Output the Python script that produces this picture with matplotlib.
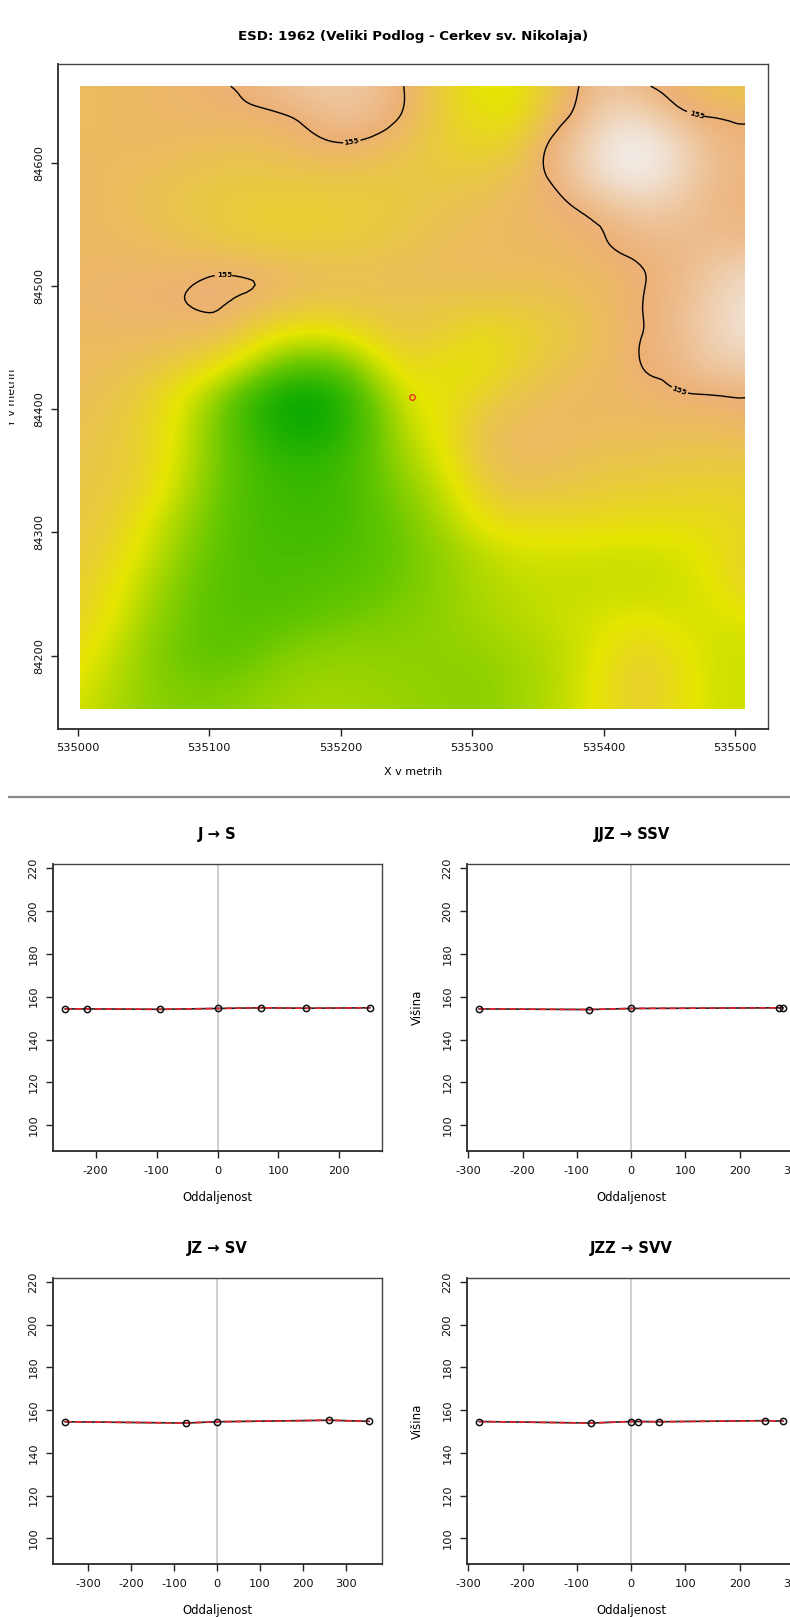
import numpy as np
import matplotlib.pyplot as plt
import matplotlib.tri as mtri
from matplotlib.colors import LinearSegmentedColormap
from matplotlib.patches import Rectangle
from matplotlib.transforms import Bbox

W, H = 790, 1617

plt.rcParams['font.family'] = ['DejaVu Sans']
plt.rcParams['axes.unicode_minus'] = False

# surface heights, rows north to south, columns west to east
grid_x = np.linspace(535002, 535507.6, 21)
grid_y = np.linspace(84662, 84156.5, 21)
height = np.array([
    [154.85,154.88,154.9,154.92,154.98,155.03,155.15,155.25,155.28,155.15,154.93,154.6,154.3,154.25,154.65,155.0,155.2,155.03,154.9,154.8,154.7],
    [154.85,154.88,154.9,154.92,154.93,154.95,154.98,155.07,155.18,155.1,154.9,154.6,154.4,154.35,154.75,155.1,155.4,155.4,155.1,155.0,154.96],
    [154.88,154.88,154.88,154.85,154.82,154.8,154.85,154.92,154.95,154.88,154.75,154.6,154.55,154.6,155.0,155.3,155.62,155.7,155.45,155.12,155.06],
    [154.9,154.85,154.82,154.78,154.72,154.7,154.7,154.72,154.72,154.7,154.7,154.7,154.72,154.8,154.98,155.25,155.55,155.6,155.4,155.12,155.05],
    [154.9,154.85,154.8,154.72,154.68,154.62,154.6,154.6,154.62,154.65,154.72,154.78,154.82,154.88,154.93,155.0,155.15,155.28,155.22,155.1,155.05],
    [154.9,154.88,154.85,154.8,154.72,154.65,154.62,154.62,154.65,154.7,154.75,154.82,154.85,154.88,154.9,154.93,155.01,155.08,155.12,155.12,155.1],
    [154.9,154.92,154.93,154.93,154.98,154.97,154.9,154.85,154.82,154.82,154.85,154.85,154.85,154.85,154.85,154.88,154.92,155.0,155.08,155.25,155.4],
    [154.92,154.94,154.96,154.985,155.03,154.93,154.85,154.72,154.75,154.75,154.75,154.72,154.72,154.72,154.75,154.8,154.88,155.01,155.12,155.32,155.52],
    [154.88,154.88,154.88,154.85,154.85,154.65,154.35,154.28,154.35,154.6,154.7,154.6,154.45,154.5,154.62,154.75,154.88,155.01,155.12,155.35,155.52],
    [154.85,154.82,154.75,154.65,154.45,154.12,153.65,153.5,153.65,154.18,154.5,154.35,154.35,154.55,154.72,154.82,154.88,155.01,155.08,155.25,155.3],
    [154.82,154.75,154.6,154.3,153.9,153.35,153.0,152.9,153.2,153.75,154.3,154.35,154.55,154.75,154.82,154.88,154.9,154.92,154.97,154.98,155.0],
    [154.78,154.7,154.55,154.25,153.75,153.35,153.05,152.98,153.2,153.65,154.15,154.4,154.75,154.85,154.88,154.88,154.85,154.85,154.85,154.85,154.9],
    [154.75,154.68,154.55,154.2,153.75,153.45,153.25,153.22,153.35,153.65,154.0,154.3,154.72,154.85,154.85,154.8,154.75,154.75,154.72,154.7,154.72],
    [154.72,154.65,154.5,154.1,153.7,153.45,153.33,153.3,153.38,153.6,153.85,154.15,154.55,154.75,154.72,154.68,154.62,154.6,154.58,154.55,154.58],
    [154.7,154.6,154.3,153.95,153.65,153.45,153.38,153.35,153.4,153.55,153.75,154.0,154.32,154.48,154.45,154.48,154.45,154.42,154.42,154.45,154.5],
    [154.68,154.5,154.2,153.85,153.6,153.45,153.42,153.42,153.45,153.55,153.7,153.85,154.05,154.18,154.22,154.2,154.18,154.18,154.22,154.35,154.55],
    [154.6,154.38,154.05,153.75,153.55,153.45,153.45,153.48,153.52,153.6,153.72,153.85,154.0,154.08,154.12,154.12,154.12,154.12,154.18,154.3,154.55],
    [154.55,154.3,153.95,153.7,153.55,153.5,153.52,153.58,153.65,153.72,153.78,153.85,153.95,154.05,154.12,154.18,154.25,154.28,154.22,154.22,154.3],
    [154.45,154.15,153.85,153.65,153.55,153.58,153.7,153.78,153.82,153.82,153.82,153.85,153.88,153.95,154.05,154.15,154.38,154.5,154.35,154.2,154.18],
    [154.3,154.05,153.85,153.7,153.68,153.72,153.85,153.9,153.9,153.88,153.85,153.82,153.82,153.9,154.0,154.18,154.45,154.62,154.42,154.2,154.18],
    [154.2,154.0,153.85,153.78,153.78,153.85,153.92,153.95,153.95,153.92,153.88,153.85,153.82,153.9,154.02,154.2,154.45,154.58,154.38,154.2,154.18],
])
site_x = [535254.6]
site_y = [84410]

# profile titles and points
titles = ['J → S', 'JJZ → SSV', 'JZ → SV', 'JZZ → SVV']
dist_js = [-250, -214, -95, 0, 72, 145, 250]
elev_js = [154.3, 154.3, 154.1, 154.5, 154.8, 154.6, 154.8]
dist_jjz = [-280, -77, 0, 272, 280]
elev_jjz = [154.3, 154.0, 154.5, 154.8, 154.8]
dist_jz = [-354, -73, 0, 261, 354]
elev_jz = [154.6, 154.0, 154.6, 155.3, 154.8]
dist_jzz = [-280, -73, 0, 12, 51, 247, 280]
elev_jzz = [154.7, 154.0, 154.7, 154.7, 154.6, 155.1, 154.9]
dists = [dist_js, dist_jjz, dist_jz, dist_jzz]
elevs = [elev_js, elev_jjz, elev_jz, elev_jzz]
ticks_js = [-200, -100, 0, 100, 200]
ticks_other = [-300, -200, -100, 0, 100, 200, 300]
ticks_prof_y = [100, 120, 140, 160, 180, 200, 220]


def px_axes(l, t, r, b):
    return fig.add_axes([l / W, 1 - b / H, (r - l) / W, (b - t) / H])


def style(ax, size):
    for name, s in ax.spines.items():
        s.set_linewidth(1.3 if name in ('left', 'bottom') else 1.0)
        s.set_color('#2a2a2a' if name in ('left', 'bottom') else '#444444')
    ax.tick_params(length=5, width=1.0, color='#222222', labelsize=size, labelcolor='#111111')
    plt.setp(ax.get_yticklabels(), rotation=90, va='center')


fig = plt.figure(figsize=(W / 100, H / 100), dpi=100)

terrain = LinearSegmentedColormap.from_list('terrain_r', [
    (0, '#00A600'), (0.25, '#63C600'), (0.5, '#E6E600'), (0.75, '#ECB176'), (1, '#F2F2F2')])

ax = px_axes(58, 64, 768, 729)
dx = grid_x[1] - grid_x[0]
dy = grid_y[0] - grid_y[1]
im = ax.imshow(height, cmap=terrain, vmin=152.9, vmax=155.7, interpolation='bicubic', aspect='auto',
               extent=[grid_x[0] - dx / 2, grid_x[-1] + dx / 2, grid_y[-1] - dy / 2, grid_y[0] + dy / 2])
im.set_clip_path(Rectangle((grid_x[0], grid_y[-1]), grid_x[-1] - grid_x[0], grid_y[0] - grid_y[-1],
                           transform=ax.transData))

# contour through matplotlib's cubic refiner so the line is not angular
gx, gy = np.meshgrid(grid_x, grid_y)
triang = mtri.Triangulation(gx.ravel(), gy.ravel())
tri_fine, z_fine = mtri.UniformTriRefiner(triang).refine_field(height.ravel(), subdiv=3)
cs = ax.tricontour(tri_fine, z_fine, levels=[155], colors='black', linewidths=1.0)
labels = ax.clabel(cs, fmt='%d', fontsize=5.2, inline=True, inline_spacing=2,
                   manual=[(535208, 84619), (535112, 84503), (535458, 84417), (535472, 84644)])
plt.setp(labels, fontweight='bold')

ax.plot(site_x, site_y, 'o', mfc='none', mec='#e8301c', mew=1.0, ms=4)
ax.set_xlim(534985, 535525)
ax.set_ylim(84140.5, 84680)
ax.set_xticks([535000, 535100, 535200, 535300, 535400, 535500])
ax.set_yticks([84200, 84300, 84400, 84500, 84600])
style(ax, 8.2)
ax.tick_params(pad=5)
ax.set_title('ESD: 1962 (Veliki Podlog - Cerkev sv. Nikolaja)', fontsize=9.6, fontweight='bold', pad=17)
ax.set_xlabel('X v metrih', fontsize=8, labelpad=10)

# the y label is cut off by the crop of the source page at x = 9
ylab = fig.text(15.5 / W, 1 - 397 / H, 'Y v metrih', fontsize=8, rotation=90, ha='center', va='baseline',
                rotation_mode='anchor', color='#111111')
ylab.set_clip_on(True)
ylab.set_clip_box(Bbox([[9, 0], [W, H]]))

fig.add_artist(plt.Line2D([9 / W, 1], [1 - 797 / H, 1 - 797 / H], color='#8a8a8a', lw=1.6))

boxes = [(53, 864, 382, 1151), (467, 864, 796, 1151), (53, 1278, 382, 1564), (467, 1278, 796, 1564)]
xlims = [(-270, 270), (-302.4, 304), (-382, 384), (-302.4, 304)]
xticks = [ticks_js, ticks_other, ticks_other, ticks_other]
for i in range(4):
    ax = px_axes(*boxes[i])
    ax.axvline(0, color='#cccccc', lw=1.3, zorder=1)
    ax.plot(dists[i], elevs[i], color='#222222', lw=1.2, zorder=2)
    ax.plot(dists[i], elevs[i], color='#e8202a', lw=1.2, ls=(0, (4, 2)), zorder=3)
    ax.plot(dists[i], elevs[i], 'o', mfc='none', mec='#111111', mew=1.1, ms=4.5, zorder=4)
    ax.set_xlim(*xlims[i])
    ax.set_ylim(88, 221.9)
    ax.set_xticks(xticks[i])
    ax.set_yticks(ticks_prof_y)
    style(ax, 8.2)
    ax.tick_params(pad=5.5)
    ax.set_title(titles[i], fontsize=10.6, fontweight='bold', pad=18)
    ax.set_xlabel('Oddaljenost', fontsize=8.4, labelpad=11)
    if i % 2 == 1:
        ax.set_ylabel('Višina', fontsize=8.5, labelpad=13)

fig.savefig('out.png', dpi=100)
